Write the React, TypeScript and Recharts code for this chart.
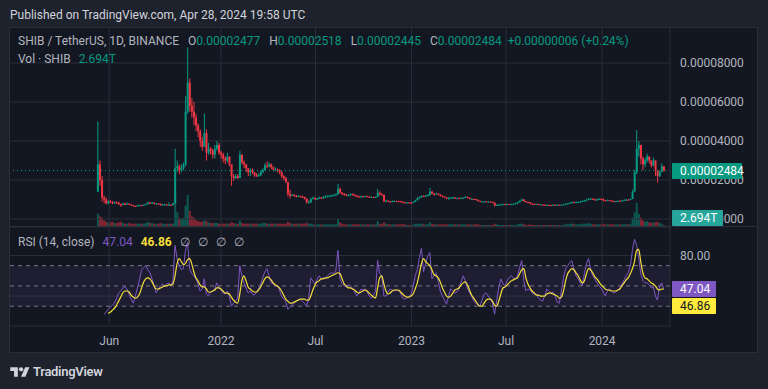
import React from 'react'
import { ComposedChart, Bar, Line, XAxis, YAxis, CartesianGrid, ReferenceLine, ReferenceArea } from 'recharts'

// SHIB/USDT, 4-day candles. Prices in 1e-6 USDT.
const DAY_STEP = 4
const FIRST_OPEN = 14

const closes = [
  28, 20, 11, 10, 8, 9, 8.8, 8.0, 8.6, 8.4,
  7.6, 7.2, 7.8, 7.5, 7.9, 7.4, 7.0, 6.7, 6.6, 7.0,
  7.1, 6.9, 7.3, 7.6, 8.4, 8.0, 8.4, 7.8, 7.9, 7.8,
  7.2, 7.4, 7.5, 7.1, 7.3, 7.1, 8.0, 26, 27, 25,
  26, 28, 55, 70, 58, 55, 52, 48, 45, 40,
  37, 44, 34, 36, 35, 33, 36, 38, 34, 33,
  31, 30, 32, 28, 22, 21, 22, 21, 33, 29,
  28, 26, 24, 25, 24, 22.5, 22, 22.5, 24, 25,
  27.5, 27, 28, 26.5, 25.5, 25.5, 25, 24, 22, 21,
  19, 13, 12, 12.3, 12, 11.4, 11.8, 11.5, 11.3, 10.5,
  8.5, 8.5, 10.2, 10.8, 10.2, 10.4, 11, 10.6, 11.3, 11.6,
  11.7, 11.9, 12.0, 12.3, 12.6, 15.5, 13.5, 12.8, 12.5, 12.2,
  12.2, 12.8, 12.5, 11.9, 11.6, 11.4, 11.6, 11.5, 11.7, 11.5,
  11.2, 11.3, 11.0, 11.3, 13.4, 12.6, 12.4, 9.3, 9.3, 9.0,
  8.7, 9.2, 9.2, 9.1, 9.0, 8.9, 8.5, 8.4, 8.5, 8.4,
  8.3, 8.7, 9.6, 10.6, 11.2, 11.8, 11.7, 12.0, 12.3, 14.0,
  13.0, 12.6, 13.0, 12.6, 11.9, 11.5, 11.1, 10.6, 10.9, 10.9,
  11.0, 10.6, 10.7, 10.6, 10.8, 10.9, 11.3, 11.0, 10.3, 10.3,
  10.2, 9.9, 9.3, 9.0, 9.0, 9.0, 8.8, 8.9, 8.8, 8.4,
  7.0, 7.2, 7.4, 7.5, 7.6, 7.4, 7.7, 7.3, 7.6, 7.8,
  8.0, 8.6, 9.3, 10.0, 9.1, 8.7, 8.5, 7.8, 7.7, 7.6,
  7.7, 7.4, 7.4, 7.3, 7.1, 7.2, 7.1, 7.0, 7.3, 7.2,
  7.3, 7.2, 7.3, 7.5, 7.9, 7.9, 8.4, 8.6, 8.5, 8.7,
  8.7, 8.9, 9.3, 9.4, 9.8, 10.3, 10.4, 10.2, 9.6, 10.0,
  10.3, 10.1, 9.6, 9.4, 9.7, 9.4, 9.2, 8.9, 9.1, 9.3,
  9.2, 9.5, 9.8, 9.9, 9.8, 10.3, 14.0, 24, 36, 38,
  31, 28, 30, 32, 30, 27.5, 30, 25, 22, 24,
  27, 24.84,
]

const highs = [
  50, 30, 22, 12, 11, 9.5, 9.8, 9.2, 9.0, 9.0,
  8.6, 7.8, 8.3, 8.4, 8.4, 8.0, 7.6, 7.2, 6.9, 7.2,
  7.4, 7.3, 7.5, 8.0, 8.9, 8.8, 8.7, 8.5, 8.2, 8.2,
  8.0, 7.7, 7.8, 7.7, 8.5, 7.6, 8.3, 36, 30, 28,
  28, 29, 63, 88, 72, 62, 60, 54, 49, 46,
  42, 54, 46, 39, 37, 36, 38, 40, 39, 35,
  34, 32, 34, 32, 28, 23, 23, 23, 35, 33,
  30, 28, 26, 26, 26, 24, 23.5, 23.5, 25, 26,
  28.5, 29.5, 29, 28.5, 27, 26.5, 26, 25.5, 24.5, 22.5,
  21.5, 19, 15, 13, 12.8, 12.3, 12.3, 12, 12, 11.5,
  10.5, 9.5, 11.0, 11.5, 11, 10.8, 11.5, 11.3, 11.8, 12.2,
  12.2, 12.4, 12.5, 12.7, 13.2, 18, 16, 13.8, 13.3, 12.8,
  12.8, 13.2, 13.1, 12.6, 12.2, 12.0, 12.0, 11.9, 12.0, 11.9,
  11.6, 11.6, 11.4, 11.6, 15.4, 14.2, 13.2, 12.4, 9.8, 9.6,
  9.2, 9.5, 9.5, 9.4, 9.4, 9.3, 9.0, 8.7, 8.7, 8.7,
  8.6, 9.0, 9.9, 11.2, 11.6, 12.2, 12.2, 12.3, 12.8, 15.9,
  14.5, 13.2, 13.5, 13.2, 12.6, 12.0, 11.6, 11.2, 11.3, 11.3,
  11.4, 11.2, 11.0, 11.0, 11.1, 11.2, 11.8, 11.5, 10.9, 10.6,
  10.5, 10.3, 9.9, 9.4, 9.2, 9.2, 9.1, 9.1, 9.0, 8.9,
  8.4, 7.5, 7.6, 7.8, 7.9, 7.8, 7.9, 7.7, 7.9, 8.0,
  8.4, 8.9, 9.6, 10.6, 10.1, 9.3, 8.9, 8.6, 8.0, 7.9,
  7.9, 7.8, 7.6, 7.6, 7.4, 7.4, 7.3, 7.2, 7.5, 7.5,
  7.5, 7.4, 7.5, 7.7, 8.1, 8.1, 8.7, 8.9, 8.9, 9.0,
  9.0, 9.2, 9.6, 9.8, 10.3, 10.8, 10.8, 10.6, 10.3, 10.4,
  10.6, 10.6, 10.6, 9.8, 10.0, 9.8, 9.6, 9.3, 9.3, 9.5,
  9.5, 9.7, 10.1, 10.3, 10.2, 10.6, 15, 25, 45.6, 40,
  38, 32, 31.5, 33.5, 32, 30, 31.5, 30, 25, 25,
  28.5, 27.2,
]

const lows = [
  14, 17, 9, 8, 7.5, 7.5, 8.2, 7.6, 7.8, 7.9,
  7.2, 6.2, 7.0, 7.1, 7.3, 7.1, 6.8, 6.4, 6.1, 6.4,
  6.8, 6.7, 6.8, 7.2, 7.6, 7.7, 7.8, 7.5, 7.6, 7.5,
  6.8, 7.0, 7.1, 6.9, 6.8, 6.8, 7.0, 8.0, 24, 23,
  24, 25, 27, 54, 55, 52, 48, 45, 42, 37,
  35, 37, 30, 33, 33, 31, 31, 35, 33, 31,
  29, 28, 29, 27, 17, 19.5, 20.5, 20.5, 21, 28,
  26, 24, 22, 22, 23, 21.5, 21.5, 21.5, 22, 23.5,
  25, 26, 26.5, 25.5, 24.5, 24.5, 24, 23, 21, 20,
  18.5, 11.5, 10.5, 11.8, 11.5, 11, 11.2, 11, 10.8, 10,
  8, 8, 8.4, 10.2, 9.8, 9.8, 10.3, 10.2, 10.5, 11,
  11.2, 11.2, 11.6, 11.7, 12.0, 12.6, 13, 12.3, 12, 11.7,
  11.8, 12.0, 12.0, 11.5, 11.1, 11, 11.1, 11.2, 11.3, 11.2,
  10.9, 10.9, 10.7, 10.8, 11.2, 12.2, 11.9, 8.5, 8.8, 8.7,
  8.4, 8.6, 8.9, 8.8, 8.8, 8.7, 8.2, 8.1, 8.2, 8.2,
  8.1, 8.2, 8.7, 9.6, 10.4, 11.0, 11.3, 11.4, 11.6, 12.0,
  12.6, 12.0, 12.3, 12.2, 11.5, 11.1, 10.8, 10.0, 9.8, 10.5,
  10.6, 10.4, 10.4, 10.4, 10.5, 10.6, 10.8, 10.6, 10.1, 10.0,
  10.0, 9.6, 9.0, 8.7, 8.8, 8.8, 8.6, 8.6, 8.6, 8.2,
  6.3, 6.9, 7.0, 7.2, 7.3, 7.2, 7.3, 7.2, 7.2, 7.4,
  7.6, 7.9, 8.6, 9.3, 8.8, 8.5, 8.3, 7.6, 7.4, 7.4,
  7.3, 7.2, 7.2, 7.1, 6.9, 7.0, 6.9, 6.9, 6.9, 7.0,
  7.0, 7.0, 7.1, 7.2, 7.4, 7.7, 7.8, 8.2, 8.2, 8.3,
  8.4, 8.5, 8.8, 9.1, 9.3, 9.7, 10.0, 9.9, 9.4, 9.5,
  9.8, 9.8, 9.0, 9.1, 9.2, 9.2, 9.0, 8.6, 8.8, 9.0,
  9.0, 9.1, 9.4, 9.6, 9.5, 9.7, 10.2, 14, 23, 32,
  28, 25, 26.5, 29, 28.5, 26.5, 27, 22, 18.6, 21.5,
  24, 24.4,
]

// volume in trillions SHIB
const volumes = [
  20, 16, 14, 10, 8, 7, 7, 8, 6, 6,
  7, 8, 6, 5, 5, 6, 5, 5, 5, 5,
  5, 5, 5, 6, 8, 6, 6, 5, 5, 5,
  6, 5, 5, 5, 5, 5, 5, 50, 22, 14,
  12, 14, 32, 48, 24, 16, 14, 10, 9, 8,
  8, 10, 9, 7, 6, 6, 6, 6, 5, 5,
  5, 5, 5, 5, 7, 6, 5, 5, 10, 6,
  5, 5, 5, 5, 5, 5, 5, 5, 5, 6,
  6, 5, 5, 5, 5, 5, 5, 5, 5, 5,
  5, 8, 6, 5, 5, 5, 5, 5, 5, 5,
  6, 5, 5, 4, 4, 4, 4, 4, 4, 4,
  4, 4, 4, 4, 4, 12, 7, 5, 4, 4,
  4, 4, 4, 4, 4, 4, 4, 4, 4, 4,
  4, 4, 4, 4, 9, 5, 4, 7, 5, 4,
  4, 4, 4, 4, 4, 4, 4, 4, 3, 3,
  3, 4, 5, 5, 5, 5, 4, 4, 4, 7,
  5, 4, 4, 4, 4, 4, 4, 4, 4, 4,
  4, 4, 4, 4, 4, 4, 4, 4, 4, 4,
  4, 4, 4, 3, 3, 3, 3, 3, 3, 3,
  5, 4, 3, 3, 3, 3, 3, 3, 3, 3,
  3, 4, 5, 5, 4, 3, 3, 4, 3, 3,
  3, 3, 3, 3, 3, 3, 3, 3, 3, 3,
  3, 3, 3, 3, 5, 4, 5, 5, 4, 4,
  4, 4, 5, 5, 5, 6, 5, 4, 4, 4,
  4, 4, 5, 4, 4, 4, 4, 4, 4, 4,
  4, 4, 4, 4, 4, 5, 14, 22, 36, 20,
  14, 10, 8, 9, 7, 6, 7, 7, 8, 6,
  5, 2.694,
]

const rsiValues = [
  null, null, null, 22, 24, 27, 29, 31, 33, 38,
  43, 45, 48, 49, 47, 42, 37, 33, 40, 48,
  56, 66, 68, 70, 66, 63, 57, 50, 43, 47,
  50, 52, 49, 52, 53, 50, 55, 90, 77, 70,
  66, 67, 85, 93, 67, 62, 60, 57, 52, 45,
  47, 57, 42, 40, 44, 45, 47, 53, 48, 46,
  43, 42, 45, 40, 30, 33, 35, 38, 70, 60,
  53, 48, 43, 45, 42, 41, 44, 47, 52, 58,
  64, 67, 60, 53, 52, 50, 50, 46, 40, 37,
  35, 27, 29, 31, 33, 35, 36, 37, 35, 33,
  30, 38, 58, 55, 52, 56, 60, 57, 58, 57,
  60, 62, 63, 62, 65, 85, 57, 52, 50, 49,
  51, 50, 48, 44, 40, 43, 47, 46, 47, 44,
  40, 38, 41, 45, 75, 62, 60, 40, 40, 44,
  47, 46, 45, 46, 45, 43, 38, 37, 38, 40,
  41, 50, 60, 66, 78, 87, 64, 72, 80, 83,
  57, 60, 63, 55, 45, 40, 36, 32, 40, 47,
  45, 43, 44, 48, 54, 60, 55, 48, 43, 40,
  35, 33, 31, 30, 36, 42, 43, 40, 37, 33,
  22, 35, 48, 57, 52, 50, 55, 58, 60, 58,
  57, 60, 68, 75, 55, 45, 47, 46, 43, 42,
  42, 38, 36, 35, 40, 47, 45, 43, 44, 40,
  34, 33, 45, 58, 67, 70, 73, 75, 66, 60,
  57, 53, 50, 62, 72, 77, 66, 60, 57, 53,
  50, 48, 44, 40, 45, 47, 45, 43, 44, 46,
  48, 52, 56, 60, 63, 70, 85, 96, 90, 78,
  62, 55, 53, 53, 51, 48, 49, 40, 36, 50,
  53, 47.04,
]

const rsiMaValues = [
  null, null, null, null, null, 23, 24, 26, 28, 31,
  35, 39, 43, 45, 45, 44, 41, 39, 38, 39,
  42, 48, 54, 57, 58, 57, 54, 50, 47, 47,
  48, 49, 50, 50, 51, 51, 52, 60, 72, 77,
  74, 71, 72, 76, 77, 72, 64, 58, 55, 51,
  49, 49, 47, 44, 44, 45, 46, 48, 48, 47,
  45, 43, 43, 42, 39, 36, 34, 33, 42, 55,
  60, 55, 49, 47, 45, 44, 44, 46, 49, 53,
  57, 59, 58, 56, 53, 51, 50, 48, 45, 41,
  37, 35, 33, 33, 34, 35, 36, 37, 37, 37,
  36, 36, 40, 46, 51, 54, 55, 57, 57, 58,
  58, 59, 60, 61, 62, 63, 62, 57, 52, 50,
  48, 48, 47, 46, 44, 43, 44, 45, 46, 45,
  43, 41, 39, 38, 48, 58, 60, 52, 45, 42,
  43, 45, 46, 46, 46, 44, 42, 40, 39, 39,
  40, 42, 47, 53, 62, 72, 77, 74, 72, 70,
  66, 61, 60, 58, 54, 48, 44, 40, 39, 40,
  43, 46, 47, 48, 51, 53, 54, 51, 46, 41,
  38, 35, 32, 30, 30, 33, 36, 37, 37, 35,
  31, 30, 35, 42, 48, 49, 51, 53, 55, 56,
  57, 58, 62, 66, 67, 58, 52, 48, 45, 43,
  41, 41, 40, 40, 40, 42, 43, 43, 42, 41,
  40, 38, 39, 45, 55, 62, 65, 67, 66, 63,
  60, 56, 53, 55, 62, 67, 66, 63, 59, 57,
  54, 51, 49, 47, 46, 46, 45, 45, 45, 46,
  47, 50, 53, 56, 58, 62, 67, 74, 85, 86,
  74, 63, 58, 57, 55, 53, 52, 50, 47, 46,
  47, 46.86,
]

// days since 2021-05-10
const timeTicks = [22, 236, 417, 601, 782, 966]
const timeLabels = ['Jun', '2022', 'Jul', '2023', 'Jul', '2024']
const priceTicks = [0, 20, 40, 60, 80]
const rsiTicks = [40, 80]
const rsiLabeled = [80]
const rsiLevels = [70, 50, 30]

const UP = '#089981'
const DOWN = '#f23645'
const GRID = '#2a2e39'
const TEXT = '#b2b5be'
const FONT = 'Roboto, "Liberation Sans", sans-serif'
const X_DOMAIN = [-168, 1096]

const data = closes.map((c, i) => {
  const open = i === 0 ? FIRST_OPEN : closes[i - 1]
  return {
    day: i * DAY_STEP,
    open,
    close: c,
    high: highs[i],
    low: lows[i],
    range: [lows[i], highs[i]],
    vol: volumes[i],
    up: c >= open,
    rsi: rsiValues[i],
    ma: rsiMaValues[i],
  }
})

const last = data[data.length - 1]

function Candle(props: any) {
  const { x, y, width, height, payload } = props
  if (!payload || x == null) return null
  const top = Math.min(y, y + height)
  const h = Math.abs(height)
  const span = payload.high - payload.low || 1
  const py = (v: number) => top + ((payload.high - v) / span) * h
  const color = payload.up ? UP : DOWN
  const cx = x + width / 2
  const yo = py(payload.open)
  const yc = py(payload.close)
  const bw = Math.max(1, width)
  return (
    <g>
      <line x1={cx} x2={cx} y1={top} y2={top + h} stroke={color} strokeWidth={1} />
      <rect x={cx - bw / 2} y={Math.min(yo, yc)} width={bw} height={Math.max(1, Math.abs(yo - yc))} fill={color} />
    </g>
  )
}

function VolBar(props: any) {
  const { x, y, width, height, payload } = props
  if (!payload || x == null) return null
  return (
    <rect x={x} y={y} width={Math.max(1, width)} height={Math.max(0, height)}
      fill={payload.up ? UP : DOWN} fillOpacity={0.5} />
  )
}

const fmtPrice = (v: number) => (v * 1e-6).toFixed(8)

function Badge({ top, width, bg, color, text }: any) {
  return (
    <div style={{
      position: 'absolute', left: 672, top, width, height: 16, background: bg, color,
      fontSize: 12, lineHeight: '16px', paddingLeft: 8, boxSizing: 'border-box', borderRadius: 1,
    }}>{text}</div>
  )
}

export default function App() {
  const g = { color: UP }
  return (
    <div style={{ position: 'absolute', left: 0, top: 0, width: 768, height: 389, background: '#1e222d', fontFamily: FONT, overflow: 'hidden' }}>
      <div style={{ position: 'absolute', left: 10, top: 7, fontSize: 12, lineHeight: '16px', color: '#d1d4dc' }}>
        Published on TradingView.com, Apr 28, 2024 19:58 UTC
      </div>

      <div style={{ position: 'absolute', left: 9, top: 27, width: 749, height: 326, background: '#131722', border: `1px solid ${GRID}`, boxSizing: 'border-box' }} />

      {/* volume, behind candles */}
      <div style={{ position: 'absolute', left: 10, top: 27 }}>
        <ComposedChart width={748} height={200} data={data} margin={{ top: 0, right: 0, bottom: 0, left: 0 }}>
          <XAxis type="number" dataKey="day" domain={X_DOMAIN} hide allowDataOverflow />
          <YAxis orientation="right" width={88} domain={[0, 300]} tick={false} axisLine={false} tickLine={false} />
          {timeTicks.map(d => <ReferenceLine key={d} x={d} stroke={GRID} />)}
          <Bar dataKey="vol" shape={(p: any) => <VolBar {...p} />} isAnimationActive={false} />
        </ComposedChart>
      </div>

      {/* candles */}
      <div style={{ position: 'absolute', left: 10, top: 27 }}>
        <ComposedChart width={748} height={200} data={data} margin={{ top: 0, right: 0, bottom: 0, left: 0 }}>
          <CartesianGrid vertical={false} stroke={GRID} />
          <XAxis type="number" dataKey="day" domain={X_DOMAIN} hide allowDataOverflow />
          <YAxis orientation="right" width={88} domain={[-4.1, 98.46]} ticks={priceTicks} allowDataOverflow
            tickFormatter={fmtPrice} tick={{ fill: TEXT, fontSize: 12 }} tickLine={false}
            axisLine={{ stroke: GRID }} tickMargin={4} interval={0} />
          <ReferenceLine y={last.close} stroke={UP} strokeDasharray="1 3" />
          <Bar dataKey="range" shape={(p: any) => <Candle {...p} />} isAnimationActive={false} />
        </ComposedChart>
      </div>

      <div style={{ position: 'absolute', left: 10, top: 226, width: 748, height: 1, background: GRID }} />

      {/* RSI */}
      <div style={{ position: 'absolute', left: 10, top: 227 }}>
        <ComposedChart width={748} height={126} data={data} margin={{ top: 0, right: 0, bottom: 0, left: 0 }}>
          <CartesianGrid vertical={false} stroke={GRID} />
          <XAxis type="number" dataKey="day" domain={X_DOMAIN} allowDataOverflow ticks={timeTicks} interval={0}
            tickFormatter={(v: number) => timeLabels[timeTicks.indexOf(v)]} height={27}
            tick={{ fill: TEXT, fontSize: 12 }} tickLine={false} axisLine={false} tickMargin={4} />
          <YAxis orientation="right" width={88} domain={[10.5, 108.1]} ticks={rsiTicks} allowDataOverflow
            tickFormatter={(v: number) => (rsiLabeled.includes(v) ? v.toFixed(2) : '')}
            tick={{ fill: TEXT, fontSize: 12 }} tickLine={false}
            axisLine={{ stroke: GRID }} tickMargin={4} interval={0} />
          {timeTicks.map(d => <ReferenceLine key={d} x={d} stroke={GRID} />)}
          <ReferenceArea y1={30} y2={70} fill="#7e57c2" fillOpacity={0.1} stroke="none" />
          {rsiLevels.map(l => <ReferenceLine key={l} y={l} stroke="#787b86" strokeDasharray="4 4" />)}
          <Line dataKey="rsi" type="linear" stroke="#7e57c2" strokeWidth={1} dot={false} isAnimationActive={false} />
          <Line dataKey="ma" type="monotone" stroke="#f5df3a" strokeWidth={1.2} dot={false} isAnimationActive={false} />
        </ComposedChart>
      </div>

      {/* legends */}
      <div style={{ position: 'absolute', left: 18, top: 33, fontSize: 12, lineHeight: '16px', color: TEXT, whiteSpace: 'nowrap' }}>
        SHIB / TetherUS, 1D, BINANCE
        <span style={{ marginLeft: 9 }}>O</span><span style={g}>0.00002477</span>
        <span style={{ marginLeft: 9 }}>H</span><span style={g}>0.00002518</span>
        <span style={{ marginLeft: 9 }}>L</span><span style={g}>0.00002445</span>
        <span style={{ marginLeft: 9 }}>C</span><span style={g}>0.00002484</span>
        <span style={{ ...g, marginLeft: 6 }}>+0.00000006 (+0.24%)</span>
      </div>
      <div style={{ position: 'absolute', left: 18, top: 51, fontSize: 12, lineHeight: '16px', color: TEXT }}>
        Vol · SHIB <span style={{ ...g, marginLeft: 5 }}>2.694T</span>
      </div>
      <div style={{ position: 'absolute', left: 18, top: 234, fontSize: 12, lineHeight: '16px', color: TEXT, whiteSpace: 'nowrap' }}>
        RSI (14, close)
        <span style={{ color: '#7e57c2', marginLeft: 8 }}>47.04</span>
        <span style={{ color: '#f5df3a', marginLeft: 8, fontWeight: 700 }}>46.86</span>
        {['∅', '∅', '∅', '∅'].map((s, i) => <span key={i} style={{ marginLeft: 8 }}>{s}</span>)}
      </div>

      <Badge top={163} width={70} bg={UP} color="#fff" text={fmtPrice(last.close)} />
      <Badge top={210} width={51} bg="#26a69a" color="#fff" text="2.694T" />
      <Badge top={281} width={44} bg="#7e57c2" color="#fff" text="47.04" />
      <Badge top={298} width={44} bg="#ffeb3b" color="#131722" text="46.86" />

      <div style={{ position: 'absolute', left: 10, top: 364, display: 'flex', alignItems: 'center', color: '#d1d4dc' }}>
        <svg width="20" height="14" viewBox="0 0 36 26">
          <path d="M14 22H7V11H0V4h14v18z" fill="#d1d4dc" />
          <path d="M28 22h-8l7.5-18h8L28 22z" fill="#d1d4dc" />
          <circle cx="20" cy="8" r="4" fill="#d1d4dc" />
        </svg>
        <span style={{ marginLeft: 3, fontSize: 13, fontWeight: 600, letterSpacing: -0.3 }}>TradingView</span>
      </div>
    </div>
  )
}
